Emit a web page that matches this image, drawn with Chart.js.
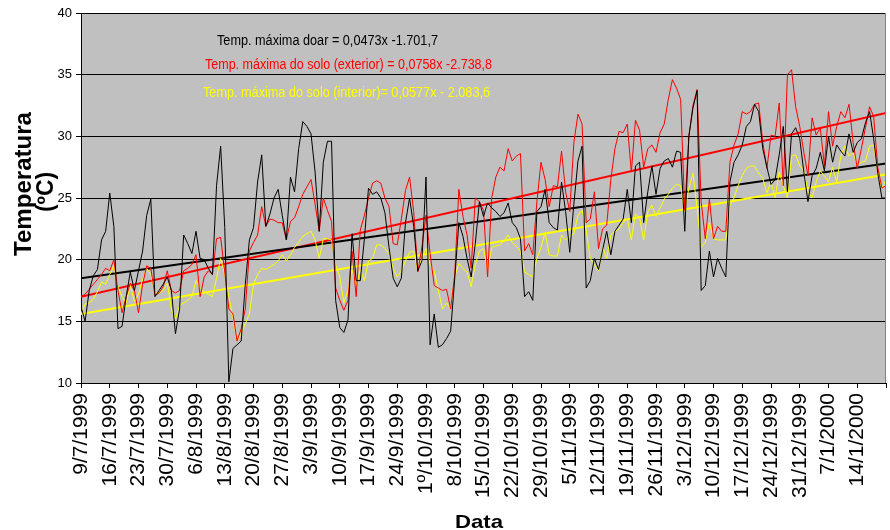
<!DOCTYPE html>
<html>
<head>
<meta charset="utf-8">
<script src="https://cdn.jsdelivr.net/npm/chart.js@4.4.0/dist/chart.umd.min.js"></script>
<style>
  body { margin: 0; background: #ffffff; }
  canvas { display: block; }
</style>
</head>
<body>
<canvas id="chart1" width="890" height="530"></canvas>
<script>
// one label every 7 days, first day 9/7/1999
const tickLabels = ['9/7/1999', '16/7/1999', '23/7/1999', '30/7/1999', '6/8/1999', '13/8/1999',
  '20/8/1999', '27/8/1999', '3/9/1999', '10/9/1999', '17/9/1999', '24/9/1999', '1º/10/1999',
  '8/10/1999', '15/10/1999', '22/10/1999', '29/10/1999', '5/11/1999', '12/11/1999', '19/11/1999',
  '26/11/1999', '3/12/1999', '10/12/1999', '17/12/1999', '24/12/1999', '31/12/1999', '7/1/2000',
  '14/1/2000'];

// daily maximum temperatures (ºC), 9/7/1999 .. 21/1/2000
const airMax = [
  16.2, 15.0, 17.5, 18.7, 19.2, 21.6, 22.3, 25.4, 22.7, 14.4, 14.6, 17.0, 19.0, 17.5, 19.1, 20.7, 23.6, 24.9, 17.0, 17.5, 18.0, 18.6, 17.5, 14.0, 16.0,
  22.0, 21.3, 20.5, 22.3, 20.1, 20.0, 19.3, 18.8, 26.0, 29.2, 22.6, 10.1, 12.8, 13.1, 13.4, 18.0, 21.6, 22.6, 26.3, 28.5, 22.7, 23.7, 25.0, 25.7,
  23.6, 21.6, 26.7, 25.5, 29.0, 31.2, 30.8, 30.2, 27.1, 22.3, 27.9, 29.6, 29.6, 16.7, 14.5, 14.1, 15.1, 22.1, 18.3, 18.3, 21.7, 25.8, 25.3, 25.5,
  25.0, 23.8, 21.0, 18.5, 17.8, 18.5, 23.0, 25.0, 22.7, 19.1, 19.9, 26.7, 13.1, 15.6, 12.9, 13.1, 13.6, 14.2, 18.5, 23.0, 21.9, 20.1, 18.6, 21.3, 24.7,
  23.5, 24.6, 24.2, 23.9, 23.5, 23.8, 24.6, 23.0, 22.6, 21.7, 17.0, 17.4, 16.7, 23.9, 24.3, 25.7, 23.0, 22.6, 22.4, 26.3, 23.9, 20.6, 24.5, 28.0,
  29.2, 17.7, 18.3, 20.1, 19.2, 20.8, 22.3, 20.4, 22.3, 22.8, 23.3, 25.7, 23.0, 27.6, 27.9, 23.0, 25.5, 27.6, 25.3, 27.4, 28.0, 28.2, 27.5, 28.8, 28.7,
  22.3, 30.0, 32.3, 33.7, 17.5, 17.9, 20.7, 18.6, 20.1, 19.3, 18.6, 26.3, 27.9, 28.5, 29.3, 30.8, 31.2, 32.6, 32.0, 29.0, 27.5, 26.1, 26.5, 28.5,
  30.8, 25.5, 30.2, 30.7, 29.8, 27.1, 24.7, 26.8, 27.4, 28.7, 27.2, 30.0, 27.9, 29.3, 28.8, 28.4, 30.2, 28.7, 29.5, 29.8, 31.1, 32.0, 29.8, 27.0, 25.0, 25.0
];

const soilOut = [
  17.0, 17.2, 17.6, 18.0, 18.4, 18.8, 19.3, 19.1, 20.0, 17.5, 15.7, 17.0, 18.1, 17.5, 15.7, 18.0, 19.5, 19.3, 17.1, 17.3, 17.8, 19.1, 17.5, 17.3, 17.5,
  19.1, 19.3, 19.6, 20.4, 17.0, 18.6, 19.1, 18.8, 21.7, 21.8, 19.0, 16.0, 15.6, 13.4, 14.4, 16.0, 20.7, 21.4, 22.0, 24.3, 22.7, 23.3, 23.2, 23.0,
  23.0, 21.6, 23.1, 23.4, 24.3, 25.3, 25.9, 26.5, 24.5, 22.3, 25.0, 24.0, 23.1, 17.7, 16.7, 15.9, 16.7, 20.7, 17.0, 22.4, 23.6, 25.0, 26.2, 26.4,
  26.2, 25.0, 24.3, 21.3, 21.2, 23.3, 25.6, 26.7, 23.9, 19.0, 21.0, 23.6, 20.5, 17.9, 17.7, 17.5, 17.6, 16.0, 18.8, 25.7, 23.5, 22.0, 19.3, 25.0, 24.7,
  24.0, 18.6, 25.0, 26.7, 27.5, 27.2, 29.0, 28.0, 28.4, 28.6, 20.7, 21.3, 20.4, 24.7, 27.9, 26.5, 24.3, 26.0, 25.9, 28.8, 25.5, 23.9, 29.5, 31.8,
  31.0, 23.0, 23.3, 25.5, 20.9, 22.5, 22.8, 26.5, 29.0, 30.4, 30.3, 31.0, 27.1, 31.3, 30.5, 27.5, 29.0, 29.3, 28.7, 30.3, 31.0, 33.0, 34.6, 33.9, 33.0,
  24.0, 30.0, 32.5, 33.8, 24.7, 21.7, 24.9, 21.7, 22.7, 22.3, 22.3, 27.9, 29.3, 30.2, 32.0, 31.8, 32.0, 32.6, 32.7, 29.5, 27.4, 30.1, 30.0, 32.7,
  26.0, 35.0, 35.4, 32.4, 30.8, 28.7, 26.8, 31.5, 30.1, 30.7, 27.6, 32.0, 29.2, 30.8, 32.0, 31.5, 32.6, 29.5, 27.4, 29.0, 30.7, 32.4, 31.6, 27.5, 25.8, 26.0
];

const soilIn = [
  15.6, 16.4, 16.5, 16.8, 17.4, 18.2, 18.0, 18.8, 19.5, 17.8, 17.0, 16.5, 17.9, 16.6, 17.2, 18.4, 19.3, 18.8, 17.3, 17.3, 17.5, 18.1, 16.0, 15.2, 16.3,
  16.5, 16.7, 17.0, 18.3, 17.7, 17.4, 17.2, 17.0, 18.5, 20.1, 18.8, 17.0, 15.3, 13.4, 14.0, 14.8, 15.6, 18.0, 18.8, 19.3, 19.2, 19.4, 19.6, 19.9,
  20.4, 19.9, 20.4, 21.0, 21.4, 21.9, 22.1, 22.3, 21.6, 20.1, 21.7, 21.7, 21.6, 19.6, 18.6, 16.5, 17.5, 19.2, 17.9, 19.2, 18.3, 19.9, 20.1, 21.2,
  21.2, 20.9, 20.5, 19.3, 18.6, 19.1, 19.9, 20.6, 20.7, 19.1, 20.1, 20.9, 19.6, 19.1, 17.5, 16.0, 16.5, 16.0, 18.6, 19.7, 19.3, 19.0, 17.8, 19.6, 20.7,
  20.9, 19.2, 21.0, 21.1, 21.2, 21.5, 22.0, 21.4, 21.1, 20.7, 19.0, 18.8, 18.6, 20.1, 21.0, 22.2, 20.4, 20.3, 20.3, 22.0, 21.6, 21.9, 22.1, 23.6,
  24.0, 22.4, 20.1, 19.6, 19.1, 21.0, 20.1, 22.0, 22.3, 22.5, 23.0, 23.3, 21.6, 23.7, 23.4, 21.6, 23.9, 24.4, 23.5, 24.2, 24.9, 25.3, 25.8, 26.1, 26.0,
  23.9, 25.8, 27.0, 24.2, 21.0, 21.4, 23.0, 21.7, 21.6, 21.6, 21.6, 24.4, 25.0, 26.0, 26.8, 27.4, 27.6, 27.6, 27.0, 26.6, 25.4, 26.3, 25.0, 27.1,
  26.0, 25.0, 28.4, 28.5, 27.6, 27.2, 25.5, 25.0, 26.3, 27.2, 26.8, 26.3, 27.5, 26.3, 28.4, 29.2, 28.4, 28.7, 27.6, 27.9, 28.0, 29.2, 29.3, 27.1, 25.8, 26.5
];

// linear trend lines: value on first and last day (air, soil exterior, soil interior)
const trendStart = [18.5, 17.0, 15.6];
const trendEnd = [27.8, 31.9, 26.9];
const trendText = [
  'Temp. máxima doar = 0,0473x -1.701,7',
  'Temp. máxima do solo (exterior) = 0,0758x -2.738,8',
  'Temp. máxima do solo (interior)= 0,0577x - 2.083,6'
];

const FONT = '"Liberation Sans", Arial, sans-serif';

function toPoints(values) {
  return values.map((v, i) => ({ x: i, y: v }));
}

function trendPoints(k) {
  return [{ x: 0, y: trendStart[k] }, { x: airMax.length - 1, y: trendEnd[k] }];
}

// text scaled to a given width (the original text is a bit stretched)
function drawLabel(ctx, text, x, y, o) {
  ctx.save();
  ctx.translate(x, y);
  if (o.angle) ctx.rotate(o.angle);
  ctx.font = o.font;
  const w = ctx.measureText(text).width;
  ctx.scale(o.width / w, 1);
  ctx.fillStyle = o.color || '#000';
  ctx.textAlign = o.align || 'left';
  ctx.textBaseline = 'alphabetic';
  ctx.fillText(text, 0, 0);
  ctx.restore();
}

const chartDecor = {
  id: 'chartDecor',
  beforeDraw(chart) {
    const a = chart.chartArea;
    const ctx = chart.ctx;
    ctx.save();
    ctx.fillStyle = '#c0c0c0';
    ctx.fillRect(a.left, a.top, a.right - a.left, a.bottom - a.top);
    ctx.restore();
  },
  afterDraw(chart) {
    const a = chart.chartArea;
    const ctx = chart.ctx;
    ctx.save();
    ctx.strokeStyle = '#808080';
    ctx.lineWidth = 1;
    ctx.beginPath();
    ctx.moveTo(Math.round(a.right) - 0.5, a.top);
    ctx.lineTo(Math.round(a.right) - 0.5, a.bottom);
    ctx.stroke();
    ctx.restore();

    drawLabel(ctx, trendText[0], 217, 45, { font: '14px ' + FONT, width: 221, color: '#000000' });
    drawLabel(ctx, trendText[1], 205, 69, { font: '14px ' + FONT, width: 287, color: '#ff0000' });
    drawLabel(ctx, trendText[2], 203, 97, { font: '14px ' + FONT, width: 287, color: '#ffff00' });

    drawLabel(ctx, 'Temperatura', 31, 184, { font: 'bold 23px ' + FONT, width: 144, align: 'center', angle: -Math.PI / 2 });
    drawLabel(ctx, '(ºC)', 53, 192, { font: 'bold 23px ' + FONT, width: 40, align: 'center', angle: -Math.PI / 2 });
    drawLabel(ctx, 'Data', 479, 528, { font: 'bold 19px ' + FONT, width: 48, align: 'center' });
  }
};

const chart = new Chart(document.getElementById('chart1'), {
  type: 'line',
  data: {
    datasets: [
      { label: 'Temp. máxima do ar', data: toPoints(airMax), borderColor: '#000000', borderWidth: 1 },
      { label: 'Temp. máxima do solo (exterior)', data: toPoints(soilOut), borderColor: '#ff0000', borderWidth: 1 },
      { label: 'Temp. máxima do solo (interior)', data: toPoints(soilIn), borderColor: '#ffff00', borderWidth: 1 },
      { label: 'trend ar', data: trendPoints(0), borderColor: '#000000', borderWidth: 2 },
      { label: 'trend exterior', data: trendPoints(1), borderColor: '#ff0000', borderWidth: 2 },
      { label: 'trend interior', data: trendPoints(2), borderColor: '#ffff00', borderWidth: 2 }
    ]
  },
  options: {
    responsive: false,
    animation: false,
    devicePixelRatio: 1,
    elements: {
      point: { radius: 0, hoverRadius: 0 },
      line: { tension: 0, fill: false }
    },
    layout: { padding: { top: 13, right: 4, left: 0, bottom: 0 } },
    scales: {
      x: {
        type: 'linear',
        min: 0,
        max: airMax.length - 1,
        afterFit: (scale) => {
          scale.height = 147;
          scale.paddingLeft = 0;
          scale.paddingRight = 0;
        },
        grid: { drawOnChartArea: false, drawTicks: true, tickLength: 5, color: '#000000' },
        border: { color: '#000000', width: 1 },
        ticks: {
          stepSize: 7,
          autoSkip: false,
          minRotation: 90,
          maxRotation: 90,
          padding: 5,
          color: '#000000',
          font: { family: FONT, size: 21 },
          callback: (value) => tickLabels[value / 7] || ''
        }
      },
      y: {
        min: 10,
        max: 40,
        afterFit: (scale) => { scale.width = 81; },
        grid: { color: '#000000', lineWidth: 1, drawTicks: true, tickLength: 5 },
        border: { color: '#000000', width: 1 },
        ticks: {
          stepSize: 5,
          padding: 4,
          color: '#000000',
          font: { family: FONT, size: 13 }
        }
      }
    },
    plugins: {
      legend: { display: false },
      tooltip: { enabled: false }
    }
  },
  plugins: [chartDecor]
});
</script>
</body>
</html>
